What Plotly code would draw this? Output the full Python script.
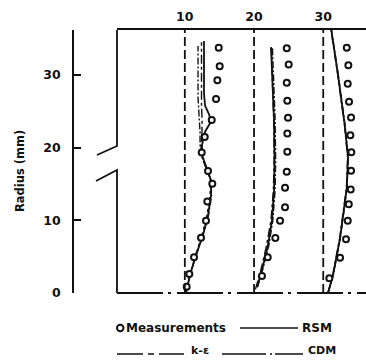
import plotly.graph_objects as go

# ---------------- data ----------------
offsets = [10, 20, 30]
x_ticks = [10, 20, 30]
y_ticks = [0, 10, 20, 30]

# measurements (radius mm, value relative to profile offset)
meas_r1 = [0.87, 2.61, 4.91, 7.61, 9.94, 12.61, 15.03, 16.78, 19.35, 21.46, 23.80, 26.69, 29.30, 31.22, 33.74]
meas_u1 = [0.27, 0.65, 1.33, 2.34, 3.06, 3.25, 3.97, 3.35, 2.44, 2.88, 3.89, 4.51, 4.70, 5.04, 4.90]
meas_r2 = [2.34, 4.91, 7.57, 9.94, 11.79, 14.48, 16.69, 19.44, 21.97, 24.11, 26.45, 28.93, 31.46, 33.70]
meas_u2 = [1.15, 1.98, 3.08, 3.76, 4.48, 4.48, 4.73, 4.81, 4.81, 4.91, 4.81, 4.73, 5.01, 4.73]
meas_r3 = [2.02, 4.86, 7.39, 9.94, 12.20, 14.26, 16.82, 19.39, 21.73, 24.17, 26.31, 28.79, 31.36, 33.74]
meas_u3 = [0.88, 2.43, 3.29, 3.54, 3.69, 3.97, 4.02, 4.06, 3.92, 4.02, 3.73, 3.54, 3.63, 3.40]

# RSM predictions
rsm_r1 = [0, 2.5, 5.2, 8.0, 10.7, 13.5, 15.5, 17.2, 19.0, 20.4, 22.2, 23.6, 24.6, 25.8, 27.5, 34.7]
rsm_u1 = [0.17, 0.75, 1.62, 2.63, 3.35, 3.79, 3.79, 3.21, 2.49, 2.49, 2.92, 3.79, 3.50, 2.92, 2.77, 2.77]
rsm_r2 = [0.83, 3.16, 6.60, 10.04, 14.17, 18.29, 23.80, 29.30, 33.84]
rsm_u2 = [0.43, 1.16, 2.02, 2.60, 2.89, 2.96, 2.89, 2.60, 2.46]
rsm_r3 = [0, 2.48, 7.57, 14.44, 18.71, 23.11, 29.99, 36.18]
rsm_u3 = [0.69, 1.42, 2.43, 3.40, 3.58, 3.11, 2.14, 1.17]

# k-epsilon predictions
ke_r1 = [0, 2.5, 5.2, 8.0, 10.7, 13.5, 15.5, 17.2, 19.0, 20.4, 22.2, 24.0, 26.0, 34.5]
ke_u1 = [0.17, 0.75, 1.55, 2.49, 3.21, 3.64, 3.71, 3.06, 2.40, 2.34, 2.49, 2.49, 2.41, 2.41]
ke_r2 = [0.5, 3.0, 6.5, 10.0, 14.2, 18.3, 23.8, 29.3, 33.8]
ke_u2 = [0.20, 0.95, 1.80, 2.45, 2.80, 2.90, 2.85, 2.62, 2.48]
ke_r3 = [0, 2.48, 7.57, 14.44, 18.71, 23.11, 29.99, 36.18]
ke_u3 = [0.66, 1.38, 2.38, 3.35, 3.53, 3.07, 2.10, 1.13]

# CDM predictions
cdm_r1 = [0, 2.5, 5.2, 8.0, 10.7, 13.5, 15.5, 17.2, 19.0, 20.4, 22.2, 24.5, 27.0, 34.0]
cdm_u1 = [0.17, 0.75, 1.62, 2.63, 3.42, 3.86, 3.79, 3.06, 2.34, 2.20, 2.20, 2.05, 1.91, 1.91]
cdm_r2 = [0.8, 3.2, 6.6, 10.0, 14.2, 18.3, 23.8, 29.3, 33.8]
cdm_u2 = [0.50, 1.25, 2.15, 2.72, 3.05, 3.12, 3.05, 2.80, 2.66]
cdm_r3 = [0, 2.48, 7.57, 14.44, 18.71, 23.11, 29.99, 36.18]
cdm_u3 = [0.72, 1.45, 2.47, 3.44, 3.62, 3.15, 2.18, 1.20]

legend_labels = ["Measurements", "RSM", "k-ε", "CDM"]
y_title = "Radius (mm)"

# ---------------- layout helpers ----------------
W, H = 366, 360
ML, MR, MT, MB = 73, 0, 30, 67
PW, PH = W - ML - MR, H - MT - MB


def fx(px):
    return (px - ML) / PW


def fy(py):
    return (H - MB - py) / PH


FONT = "DejaVu Sans"
INK = "#111111"

fig = go.Figure()

meas = [(meas_r1, meas_u1), (meas_r2, meas_u2), (meas_r3, meas_u3)]
rsm = [(rsm_r1, rsm_u1), (rsm_r2, rsm_u2), (rsm_r3, rsm_u3)]
ke = [(ke_r1, ke_u1), (ke_r2, ke_u2), (ke_r3, ke_u3)]
cdm = [(cdm_r1, cdm_u1), (cdm_r2, cdm_u2), (cdm_r3, cdm_u3)]

for off, (r, u) in zip(offsets, cdm):
    fig.add_trace(go.Scatter(x=[off + v for v in u], y=r, mode="lines",
                             line=dict(color=INK, width=1.4, dash="7px,2px,2px,2px"),
                             showlegend=False, cliponaxis=False))
for off, (r, u) in zip(offsets, ke):
    fig.add_trace(go.Scatter(x=[off + v for v in u], y=r, mode="lines",
                             line=dict(color=INK, width=1.4, dash="9px,3px,3px,3px"),
                             showlegend=False, cliponaxis=False))
for off, (r, u) in zip(offsets, rsm):
    fig.add_trace(go.Scatter(x=[off + v for v in u], y=r, mode="lines",
                             line=dict(color=INK, width=1.8),
                             showlegend=False, cliponaxis=False))
for off, (r, u) in zip(offsets, meas):
    fig.add_trace(go.Scatter(x=[off + v for v in u], y=r, mode="markers",
                             marker=dict(symbol="circle", size=6, color="white",
                                         line=dict(color=INK, width=2)),
                             showlegend=False, cliponaxis=False))

shapes = []
# dashed zero lines for each profile
for off in offsets:
    shapes.append(dict(type="line", xref="x", yref="paper", x0=off, x1=off, y0=0, y1=1,
                       line=dict(color=INK, width=1.8, dash="9px,4px")))
# bottom centre line (dash-dot)
shapes.append(dict(type="line", xref="paper", yref="paper", x0=fx(117), x1=1.0, y0=0, y1=0,
                   line=dict(color=INK, width=2, dash="46px,5px,3px,6px")))
# left frame with axis break
shapes.append(dict(type="path", xref="paper", yref="paper",
                   path=f"M{fx(117)},{fy(30)} L{fx(117)},{fy(146)} L{fx(97)},{fy(155)}",
                   line=dict(color=INK, width=1.8)))
shapes.append(dict(type="path", xref="paper", yref="paper",
                   path=f"M{fx(96)},{fy(181)} L{fx(117)},{fy(170)} L{fx(117)},{fy(293)}",
                   line=dict(color=INK, width=1.8)))

# legend (drawn manually)
ROW1, ROW2 = 328, 354
shapes.append(dict(type="circle", xref="paper", yref="paper",
                   x0=fx(117), x1=fx(123.5), y0=fy(331.2), y1=fy(324.8),
                   line=dict(color=INK, width=2), fillcolor="white"))
shapes.append(dict(type="line", xref="paper", yref="paper", x0=fx(240), x1=fx(298),
                   y0=fy(ROW1), y1=fy(ROW1), line=dict(color=INK, width=1.7)))
shapes.append(dict(type="line", xref="paper", yref="paper", x0=fx(117), x1=fx(184),
                   y0=fy(ROW2), y1=fy(ROW2), line=dict(color=INK, width=1.3, dash="26px,5px,6px,5px")))
shapes.append(dict(type="line", xref="paper", yref="paper", x0=fx(222), x1=fx(303),
                   y0=fy(ROW2), y1=fy(ROW2), line=dict(color=INK, width=1.3, dash="44px,4px,2px,3px")))

lfont = dict(family=FONT, size=12, color=INK)
lfont2 = dict(family=FONT, size=11, color=INK)
annotations = [
    dict(text=f"<b>{legend_labels[0]}</b>", xref="paper", yref="paper", x=fx(124), y=fy(ROW1),
         xanchor="left", yanchor="middle", showarrow=False, font=lfont),
    dict(text=f"<b>{legend_labels[1]}</b>", xref="paper", yref="paper", x=fx(300), y=fy(ROW1),
         xanchor="left", yanchor="middle", showarrow=False, font=lfont),
    dict(text=f"<b>{legend_labels[2]}</b>", xref="paper", yref="paper", x=fx(189), y=fy(351),
         xanchor="left", yanchor="middle", showarrow=False, font=lfont2),
    dict(text=f"<b>{legend_labels[3]}</b>", xref="paper", yref="paper", x=fx(306), y=fy(351),
         xanchor="left", yanchor="middle", showarrow=False, font=lfont2),
    dict(text=f"<b>{y_title}</b>", xref="paper", yref="paper", x=fx(20), y=fy(171),
         xanchor="center", yanchor="middle", textangle=-90, showarrow=False,
         font=dict(family=FONT, size=11.5, color=INK)),
]

fig.update_layout(
    width=W, height=H,
    margin=dict(l=ML, r=MR, t=MT, b=MB, pad=0),
    paper_bgcolor="white", plot_bgcolor="white",
    showlegend=False,
    shapes=shapes,
    annotations=annotations,
    xaxis=dict(domain=[fx(117), 1.0], range=[0.2, 36.18], side="top", anchor="y",
               showline=True, linecolor=INK, linewidth=2, showgrid=False, zeroline=False,
               ticks="", tickvals=x_ticks, ticktext=[f"<b>{t}</b>" for t in x_ticks],
               tickfont=dict(family=FONT, size=12.5, color=INK), ticklabelstandoff=2),
    yaxis=dict(domain=[0, 1], range=[0, 36.2], anchor="free", position=0,
               showline=True, linecolor=INK, linewidth=1.8, showgrid=False, zeroline=False,
               ticks="inside", ticklen=7, tickwidth=1.8, tickcolor=INK,
               tickvals=y_ticks, ticktext=[f"<b>{t}</b>" for t in y_ticks],
               tickfont=dict(family=FONT, size=12.5, color=INK), ticklabelstandoff=9),
)

fig.write_html("out.html", config={"displayModeBar": False},
               post_script="document.body.style.margin='0';document.body.style.overflow='hidden';")
